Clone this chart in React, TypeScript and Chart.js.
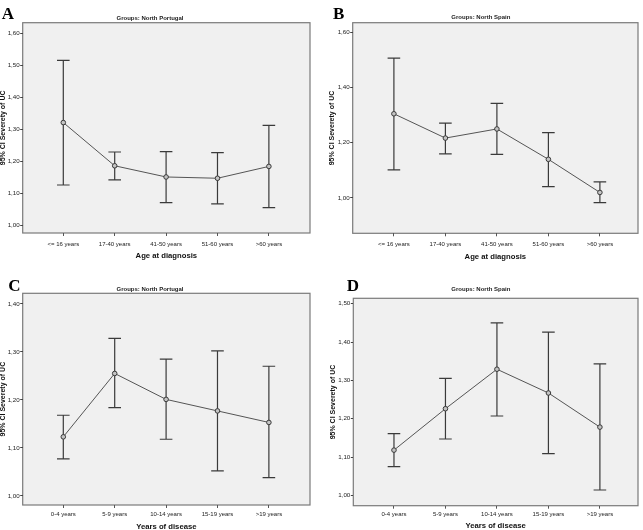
import { useEffect, useRef } from "react";
import { Chart, registerables } from "chart.js";

Chart.register(...registerables);

// Category labels
const ageGroups = ["<= 16 years", "17-40 years", "41-50 years", "51-60 years", ">60 years"];
const diseaseYears = ["0-4 years", "5-9 years", "10-14 years", "15-19 years", ">19 years"];

// A — North Portugal, by age at diagnosis
const ageMeanPortugal = [1.322, 1.187, 1.152, 1.148, 1.185];
const ageLowerPortugal = [1.127, 1.143, 1.072, 1.068, 1.056];
const ageUpperPortugal = [1.516, 1.23, 1.231, 1.228, 1.313];

// B — North Spain, by age at diagnosis
const ageMeanSpain = [1.305, 1.217, 1.25, 1.14, 1.02];
const ageLowerSpain = [1.102, 1.16, 1.158, 1.041, 0.983];
const ageUpperSpain = [1.507, 1.271, 1.343, 1.237, 1.058];

// C — North Portugal, by years of disease
const yearsMeanPortugal = [1.123, 1.255, 1.201, 1.177, 1.153];
const yearsLowerPortugal = [1.077, 1.184, 1.118, 1.052, 1.038];
const yearsUpperPortugal = [1.168, 1.328, 1.285, 1.302, 1.27];

// D — North Spain, by years of disease
const yearsMeanSpain = [1.118, 1.226, 1.329, 1.267, 1.178];
const yearsLowerSpain = [1.075, 1.147, 1.207, 1.109, 1.014];
const yearsUpperSpain = [1.161, 1.305, 1.45, 1.426, 1.343];

// Y tick values per panel
const ticksA = [1.0, 1.1, 1.2, 1.3, 1.4, 1.5, 1.6];
const ticksB = [1.0, 1.2, 1.4, 1.6];
const ticksC = [1.0, 1.1, 1.2, 1.3, 1.4];
const ticksD = [1.0, 1.1, 1.2, 1.3, 1.4, 1.5];

const SANS = "'Liberation Sans', Arial, sans-serif";
const SERIF = "'Liberation Serif', 'Times New Roman', serif";
const PLOT_BG = "#f0f0f0";
const FRAME = "#7a7a7a";
const INK = "#3a3a3a";
const CAP = 6.3;
const Y_TITLE = "95% CI Severety of UC";

type Box = { x: number; y: number; w: number; h: number };
type Area = { l: number; t: number; r: number; b: number };

type Panel = {
  letter: string;
  group: string;
  xTitle: string;
  categories: string[];
  mean: number[];
  lower: number[];
  upper: number[];
  yTicks: number[];
  yMin: number;
  yMax: number;
  xMin: number;
  xMax: number;
  box: Box;
  area: Area;
  yTitleLeft: number;
  xTickPad: number;
  xAxisH: number;
  letterPos: [number, number];
  groupPos: [number, number];
};

const panels: Panel[] = [
  {
    letter: "A",
    group: "Groups: North Portugal",
    xTitle: "Age at diagnosis",
    categories: ageGroups,
    mean: ageMeanPortugal,
    lower: ageLowerPortugal,
    upper: ageUpperPortugal,
    yTicks: ticksA,
    yMin: 0.977,
    yMax: 1.634,
    xMin: -0.79,
    xMax: 4.8,
    box: { x: -10, y: 0, w: 330, h: 265 },
    area: { l: 22.7, t: 22.7, r: 310, b: 233 },
    yTitleLeft: -0.9,
    xTickPad: 4.4,
    xAxisH: 27.6,
    letterPos: [1.7, 5.1],
    groupPos: [150, 18.3],
  },
  {
    letter: "B",
    group: "Groups: North Spain",
    xTitle: "Age at diagnosis",
    categories: ageGroups,
    mean: ageMeanSpain,
    lower: ageLowerSpain,
    upper: ageUpperSpain,
    yTicks: ticksB,
    yMin: 0.872,
    yMax: 1.635,
    xMin: -0.8,
    xMax: 4.74,
    box: { x: 320, y: 0, w: 323, h: 265 },
    area: { l: 352.7, t: 22.7, r: 638.3, b: 233.3 },
    yTitleLeft: 327.5,
    xTickPad: 4.1,
    xAxisH: 28,
    letterPos: [333, 4.8],
    groupPos: [480.8, 16.7],
  },
  {
    letter: "C",
    group: "Groups: North Portugal",
    xTitle: "Years of disease",
    categories: diseaseYears,
    mean: yearsMeanPortugal,
    lower: yearsLowerPortugal,
    upper: yearsUpperPortugal,
    yTicks: ticksC,
    yMin: 0.981,
    yMax: 1.422,
    xMin: -0.79,
    xMax: 4.8,
    box: { x: -10, y: 265, w: 330, h: 270 },
    area: { l: 22.7, t: 293.3, r: 310, b: 505 },
    yTitleLeft: -1.5,
    xTickPad: 2.4,
    xAxisH: 26.3,
    letterPos: [8.3, 276.8],
    groupPos: [150, 289],
  },
  {
    letter: "D",
    group: "Groups: North Spain",
    xTitle: "Years of disease",
    categories: diseaseYears,
    mean: yearsMeanSpain,
    lower: yearsLowerSpain,
    upper: yearsUpperSpain,
    yTicks: ticksD,
    yMin: 0.973,
    yMax: 1.514,
    xMin: -0.79,
    xMax: 4.74,
    box: { x: 320, y: 265, w: 323, h: 270 },
    area: { l: 353.3, t: 298.3, r: 638.3, b: 505.7 },
    yTitleLeft: 329.1,
    xTickPad: 1.7,
    xAxisH: 25,
    letterPos: [346.7, 277.3],
    groupPos: [480.8, 289],
  },
];

// Grey plot background with a thin frame around the chart area
const framePlugin = {
  id: "plotFrame",
  beforeDraw(chart: any) {
    const { ctx, chartArea: a } = chart;
    ctx.save();
    ctx.fillStyle = PLOT_BG;
    ctx.fillRect(a.left, a.top, a.right - a.left, a.bottom - a.top);
    ctx.strokeStyle = FRAME;
    ctx.lineWidth = 1.2;
    ctx.strokeRect(a.left, a.top, a.right - a.left, a.bottom - a.top);
    ctx.restore();
  },
};

// 95% CI whiskers with caps, drawn beneath the mean line
function makeErrorBars(lower: number[], upper: number[]) {
  return {
    id: "errorBars",
    beforeDatasetsDraw(chart: any) {
      const { ctx } = chart;
      const xs = chart.scales.x;
      const ys = chart.scales.y;
      ctx.save();
      ctx.strokeStyle = INK;
      ctx.lineWidth = 1.2;
      lower.forEach((lo, i) => {
        const px = xs.getPixelForValue(i);
        const yLo = ys.getPixelForValue(lo);
        const yHi = ys.getPixelForValue(upper[i]);
        ctx.beginPath();
        ctx.moveTo(px, yLo);
        ctx.lineTo(px, yHi);
        ctx.moveTo(px - CAP, yLo);
        ctx.lineTo(px + CAP, yLo);
        ctx.moveTo(px - CAP, yHi);
        ctx.lineTo(px + CAP, yHi);
        ctx.stroke();
      });
      ctx.restore();
    },
  };
}

function PanelChart({ p }: { p: Panel }) {
  const ref = useRef<HTMLCanvasElement | null>(null);

  useEffect(() => {
    const canvas = ref.current;
    if (!canvas) return;
    const yAxisW = p.area.l - p.yTitleLeft;
    const padLeft = p.yTitleLeft - p.box.x;
    const padTop = p.area.t - p.box.y;
    const padRight = p.box.x + p.box.w - p.area.r;
    const padBottom = p.box.y + p.box.h - p.area.b - p.xAxisH;

    const chart = new Chart(canvas, {
      type: "line",
      data: {
        datasets: [
          {
            data: p.mean.map((m, i) => ({ x: i, y: m })),
            borderColor: "#555555",
            borderWidth: 1,
            pointRadius: 2.3,
            pointBackgroundColor: "#c4c4c4",
            pointBorderColor: "#3a3a3a",
            pointBorderWidth: 1,
            tension: 0,
          },
        ],
      },
      options: {
        animation: false,
        responsive: false,
        devicePixelRatio: 1,
        layout: { padding: { left: padLeft, top: padTop, right: padRight, bottom: padBottom } },
        plugins: {
          legend: { display: false },
          tooltip: { enabled: false },
        },
        scales: {
          x: {
            type: "linear",
            min: p.xMin,
            max: p.xMax,
            afterBuildTicks: (s: any) => {
              s.ticks = p.categories.map((_, i) => ({ value: i }));
            },
            afterFit: (s: any) => {
              s.height = p.xAxisH;
            },
            grid: { drawOnChartArea: false, drawTicks: true, tickLength: 3, tickColor: "#555555" },
            border: { display: false },
            ticks: {
              autoSkip: false,
              maxRotation: 0,
              padding: p.xTickPad,
              color: "#222222",
              font: { family: SANS, size: 6 },
              callback: (v: any) => p.categories[Number(v)] ?? "",
            },
            title: {
              display: true,
              text: p.xTitle,
              color: "#111111",
              padding: 0,
              font: { family: SANS, size: 7.7, weight: "bold" },
            },
          },
          y: {
            type: "linear",
            min: p.yMin,
            max: p.yMax,
            afterBuildTicks: (s: any) => {
              s.ticks = p.yTicks.map((v) => ({ value: v }));
            },
            afterFit: (s: any) => {
              s.width = yAxisW;
            },
            grid: { drawOnChartArea: false, drawTicks: true, tickLength: 2.5, tickColor: "#444444" },
            border: { display: false },
            ticks: {
              padding: 0.5,
              color: "#222222",
              font: { family: SANS, size: 6.2 },
              callback: (v: any) => Number(v).toFixed(2).replace(".", ","),
            },
            title: {
              display: true,
              text: Y_TITLE,
              color: "#111111",
              padding: 0,
              font: { family: SANS, size: 7, weight: "bold" },
            },
          },
        },
      },
      plugins: [framePlugin, makeErrorBars(p.lower, p.upper)],
    } as any);

    return () => chart.destroy();
  }, [p]);

  return (
    <canvas
      ref={ref}
      width={p.box.w}
      height={p.box.h}
      style={{ position: "absolute", left: p.box.x, top: p.box.y, width: p.box.w, height: p.box.h }}
    />
  );
}

export default function App() {
  return (
    <div
      style={{
        position: "fixed",
        left: 0,
        top: 0,
        width: 643,
        height: 530,
        overflow: "hidden",
        background: "#ffffff",
      }}
    >
      {panels.map((p) => (
        <PanelChart key={p.letter} p={p} />
      ))}
      {panels.map((p) => (
        <div
          key={"g" + p.letter}
          style={{
            position: "absolute",
            left: p.groupPos[0],
            top: p.groupPos[1],
            transform: "translate(-50%, -50%)",
            whiteSpace: "nowrap",
            fontFamily: SANS,
            fontWeight: "bold",
            fontSize: 6,
            lineHeight: 1,
            color: "#222222",
          }}
        >
          {p.group}
        </div>
      ))}
      {panels.map((p) => (
        <div
          key={"l" + p.letter}
          style={{
            position: "absolute",
            left: p.letterPos[0],
            top: p.letterPos[1],
            fontFamily: SERIF,
            fontWeight: "bold",
            fontSize: 17,
            lineHeight: "17px",
            color: "#000000",
          }}
        >
          {p.letter}
        </div>
      ))}
    </div>
  );
}
